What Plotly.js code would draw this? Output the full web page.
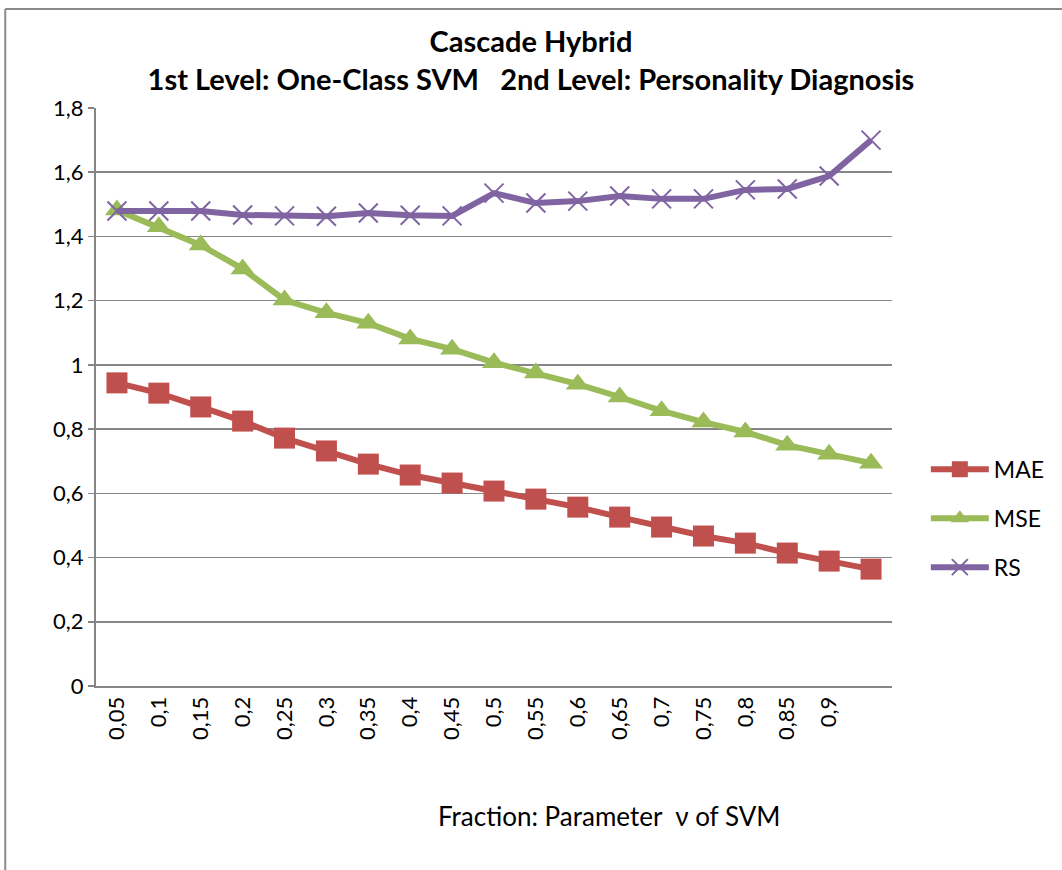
<!DOCTYPE html>
<html>
<head>
<meta charset="utf-8">
<script src="https://cdn.plot.ly/plotly-3.0.1.min.js"></script>
<style>
  html, body { margin: 0; padding: 0; background: #fff; }
  #chart { width: 1062px; height: 870px; }
</style>
</head>
<body>
<div id="chart"></div>
<script>
// Parameter nu of the one-class SVM (x positions)
const nuValues = [0.05, 0.10, 0.15, 0.20, 0.25, 0.30, 0.35, 0.40, 0.45, 0.50,
                  0.55, 0.60, 0.65, 0.70, 0.75, 0.80, 0.85, 0.90, 0.95];
// Tick labels shown on the x axis (last point has no label)
const xTickLabels = ["0,05", "0,1", "0,15", "0,2", "0,25", "0,3", "0,35", "0,4", "0,45",
                     "0,5", "0,55", "0,6", "0,65", "0,7", "0,75", "0,8", "0,85", "0,9"];
const xTickVals = nuValues.slice(0, xTickLabels.length);

const maeValues = [0.944, 0.912, 0.869, 0.825, 0.772, 0.732, 0.691, 0.657, 0.632, 0.607,
                   0.582, 0.557, 0.526, 0.495, 0.467, 0.445, 0.414, 0.389, 0.364];
const mseValues = [1.482, 1.430, 1.373, 1.299, 1.202, 1.162, 1.130, 1.081, 1.049, 1.007,
                   0.975, 0.940, 0.900, 0.857, 0.822, 0.791, 0.750, 0.722, 0.694];
const rsValues  = [1.479, 1.479, 1.479, 1.467, 1.464, 1.463, 1.473, 1.466, 1.464, 1.535,
                   1.504, 1.510, 1.526, 1.517, 1.517, 1.545, 1.548, 1.588, 1.700];

const yTickVals = [0, 0.2, 0.4, 0.6, 0.8, 1, 1.2, 1.4, 1.6, 1.8];
const yTickLabels = ["0", "0,2", "0,4", "0,6", "0,8", "1", "1,2", "1,4", "1,6", "1,8"];

const FONT = "Lato, 'Noto Sans', sans-serif";

const traces = [
  {
    name: "MAE", x: nuValues, y: maeValues, type: "scatter", mode: "lines+markers",
    legendgroup: "a",
    line: { color: "#C0504D", width: 6 },
    marker: { symbol: "square", size: 21, color: "#C0504D" }
  },
  {
    name: "MSE", x: nuValues, y: mseValues, type: "scatter", mode: "lines+markers",
    legendgroup: "b",
    line: { color: "#9BBB59", width: 6 },
    marker: { symbol: "triangle-up", size: 21, color: "#9BBB59" }
  },
  {
    name: "RS", x: nuValues, y: rsValues, type: "scatter", mode: "lines+markers",
    legendgroup: "c",
    line: { color: "#8064A2", width: 6 },
    marker: { symbol: "x-thin-open", size: 19, color: "#8064A2", line: { color: "#8064A2", width: 2 } }
  }
];

const layout = {
  width: 1062, height: 870,
  margin: { l: 96, r: 166, t: 108, b: 184 },
  paper_bgcolor: "#ffffff", plot_bgcolor: "#ffffff",
  font: { family: FONT, color: "#000000", size: 22 },
  title: {
    text: "<b>Cascade Hybrid</b><br><b>1st Level: One-Class SVM   2nd Level: Personality Diagnosis</b>",
    x: 0.5, xref: "container", xanchor: "center",
    y: 0.94, yref: "container", yanchor: "top",
    font: { family: FONT, size: 29, color: "#000" }
  },
  xaxis: {
    range: [0.025, 0.975],
    tickvals: xTickVals, ticktext: xTickLabels,
    tickangle: -90,
    showgrid: false, zeroline: false,
    showline: true, linecolor: "#868686", linewidth: 2,
    ticks: "", tickfont: { family: FONT, size: 22 },
    fixedrange: true
  },
  yaxis: {
    range: [0, 1.8],
    tickvals: yTickVals, ticktext: yTickLabels,
    showgrid: true, gridcolor: "#868686", gridwidth: 1.5,
    zeroline: false,
    showline: true, linecolor: "#868686", linewidth: 2,
    ticks: "outside", ticklen: 6, tickcolor: "#868686", tickwidth: 1.5,
    tickfont: { family: FONT, size: 22 },
    fixedrange: true
  },
  legend: {
    x: 1.0425, xanchor: "left", y: 0.29, yanchor: "middle",
    font: { family: FONT, size: 23 },
    traceorder: "grouped", tracegroupgap: 16,
    itemwidth: 58,
    bgcolor: "rgba(0,0,0,0)"
  },
  annotations: [{
    text: "Fraction: Parameter  ν of SVM",
    xref: "paper", yref: "paper",
    x: 0.644, y: -0.225, xanchor: "center", yanchor: "middle",
    showarrow: false,
    font: { family: FONT, size: 26, color: "#000" }
  }],
  shapes: [
    { type: "line", xref: "paper", yref: "paper", x0: -0.114, x1: 1.3, y0: 1.1713, y1: 1.1713,
      line: { color: "#8a8a8a", width: 2 } },
    { type: "line", xref: "paper", yref: "paper", x0: -0.114, x1: -0.114, y0: 1.1713, y1: -0.4,
      line: { color: "#8a8a8a", width: 2 } }
  ]
};

Plotly.newPlot("chart", traces, layout, { displayModeBar: false, staticPlot: true });
</script>
</body>
</html>
